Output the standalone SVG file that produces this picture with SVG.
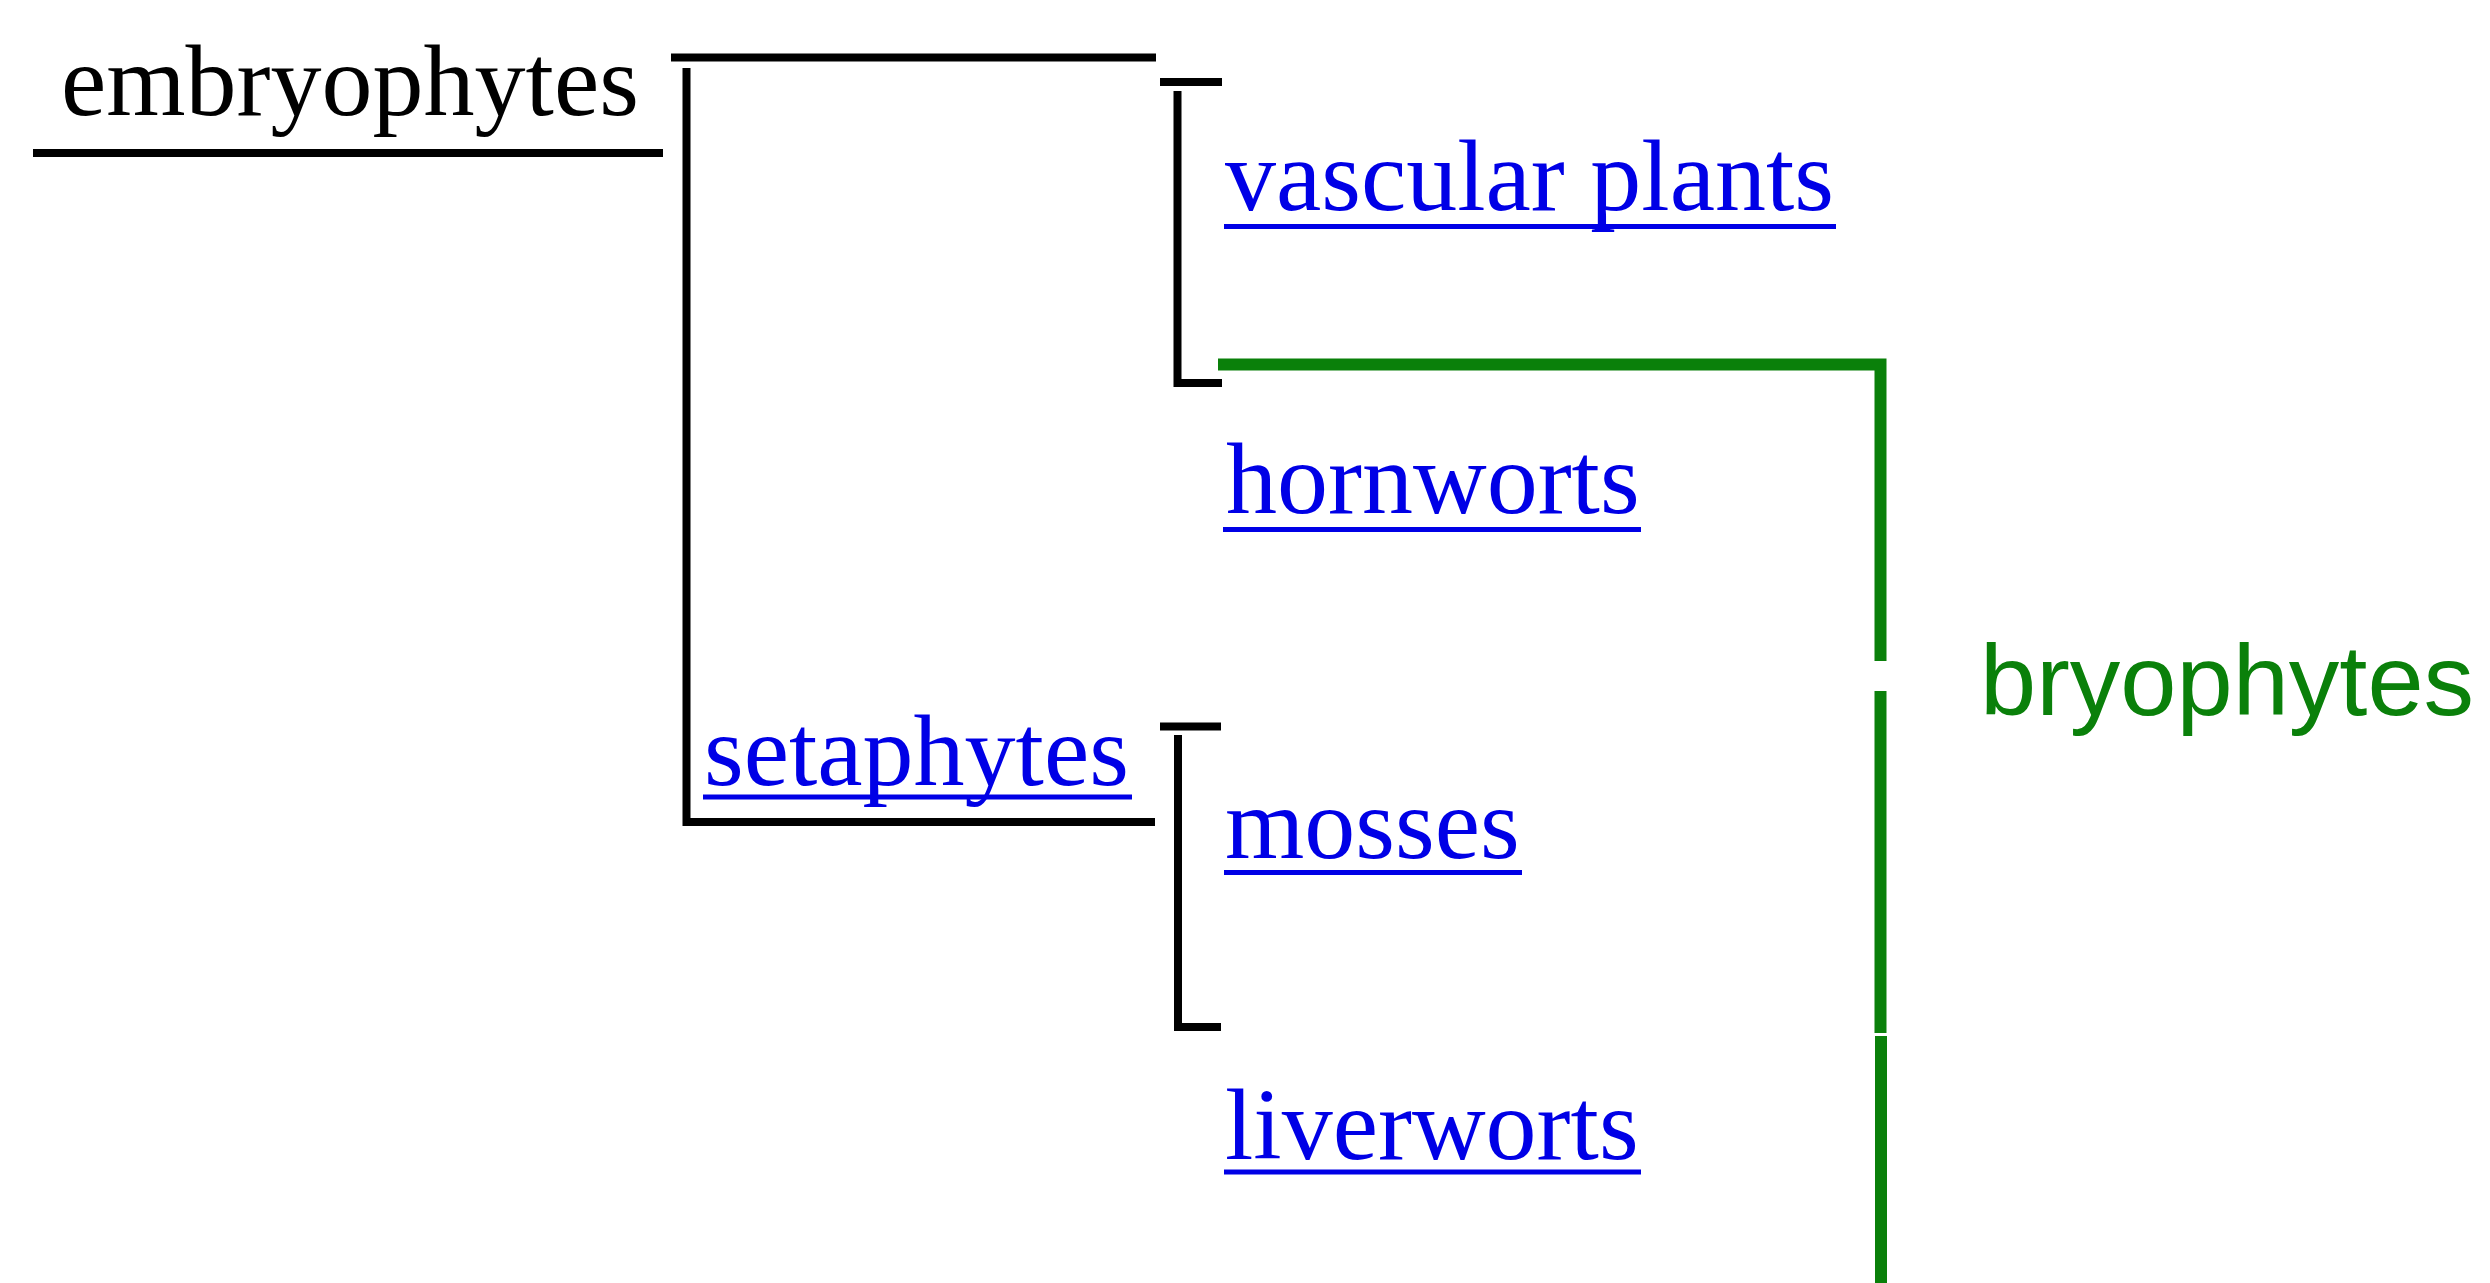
<svg xmlns="http://www.w3.org/2000/svg" width="2490" height="1283" viewBox="0 0 2490 1283">
  <style>
    .serif { font-family: "Liberation Serif", "Times New Roman", serif; font-size: 102px; }
    .plain { fill: #000000; }
    .link { fill: #0000e6; }
    .link-ul { stroke: #0000e6; stroke-width: 5; }
    .sans { font-family: "Liberation Sans", Arial, sans-serif; font-size: 101px; fill: #0a800a; }
    .branch { stroke: #000000; stroke-width: 8; fill: none; }
    .clade { stroke: #0a800a; stroke-width: 12; fill: none; }
  </style>
  <rect width="2490" height="1283" fill="#ffffff"/>

  <!-- tree branches and the bryophyte bracket -->
  <g id="connectors">
    <line class="branch" x1="33" y1="153" x2="663" y2="153"/>
    <line class="branch" x1="671" y1="57.5" x2="1156" y2="57.5"/>
    <polyline class="branch" points="686.5,68 686.5,822 1155,822"/>
    <line class="branch" x1="1160" y1="82" x2="1222" y2="82"/>
    <polyline class="branch" points="1177.5,91 1177.5,383 1222,383"/>
    <line class="branch" x1="1160" y1="726.5" x2="1221" y2="726.5"/>
    <polyline class="branch" points="1178,735 1178,1027 1221,1027"/>
    <polyline class="clade" points="1218,364.5 1880.5,364.5 1880.5,661"/>
    <line class="clade" x1="1880.5" y1="691" x2="1880.5" y2="1033"/>
    <line class="clade" x1="1881" y1="1036" x2="1881" y2="1283"/>
  </g>

  <g id="embryophytes">
    <text class="serif plain" x="61" y="115">embryophytes</text>
  </g>
  <g id="vascular-plants">
    <text class="serif link" x="1225" y="210">vascular plants</text>
    <line class="link-ul" x1="1224" y1="226.5" x2="1836" y2="226.5"/>
  </g>
  <g id="hornworts">
    <text class="serif link" x="1226" y="513">hornworts</text>
    <line class="link-ul" x1="1223" y1="529.5" x2="1641" y2="529.5"/>
  </g>
  <g id="setaphytes">
    <text class="serif link" x="704" y="785">setaphytes</text>
    <line class="link-ul" x1="703" y1="797" x2="1132" y2="797"/>
  </g>
  <g id="mosses">
    <text class="serif link" x="1225" y="858">mosses</text>
    <line class="link-ul" x1="1224" y1="872.5" x2="1522" y2="872.5"/>
  </g>
  <g id="liverworts">
    <text class="serif link" x="1225" y="1159">liverworts</text>
    <line class="link-ul" x1="1224" y1="1172" x2="1641" y2="1172"/>
  </g>
  <g id="bryophytes">
    <text class="sans" x="1980" y="715">bryophytes</text>
  </g>
</svg>
